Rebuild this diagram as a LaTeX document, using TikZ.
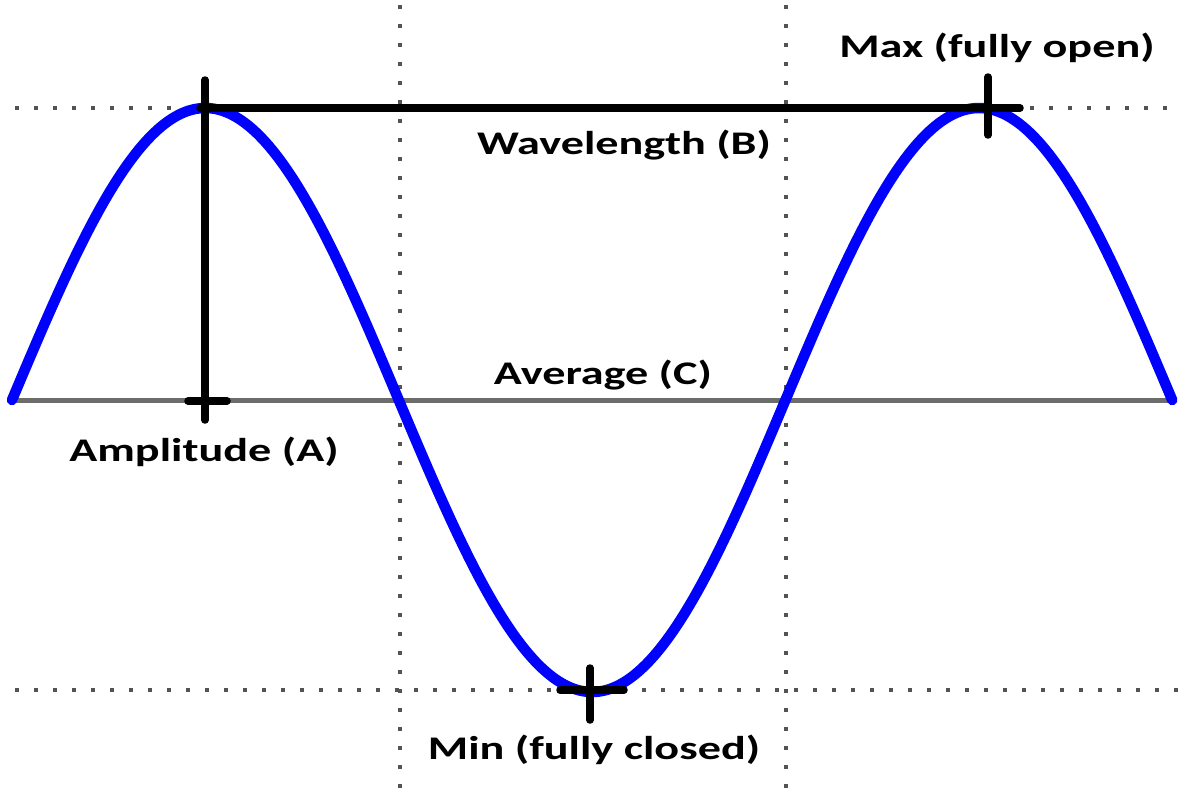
\documentclass[tikz,border=0pt]{standalone}
\usepackage{fontspec}
\setmainfont{Carlito}[FakeStretch=1.4]
\begin{document}
\begin{tikzpicture}[x=1pt,y=-1pt,
  dotline/.style={line width=4pt,gray!65!black,dash pattern=on 4pt off 15pt},
  avgline/.style={line width=5pt,gray!85!black},
  wave/.style={line width=10.5pt,blue,line cap=round},
  measure/.style={line width=7.5pt,black,line cap=round},
  lbl/.style={font=\bfseries\fontsize{33}{40}\selectfont,inner sep=0pt}]
\useasboundingbox (0,0) rectangle (1181,795);
% dotted guides
\draw[dotline] (15,108) -- (195,108);
\draw[dotline] (1030,108) -- (1178,108);
\draw[dotline] (15,690) -- (1178,690);
\draw[dotline] (400,5) -- (400,792);
\draw[dotline] (786,5) -- (786,792);
% average line
\coordinate (avgL) at (12,400);
\coordinate (avgR) at (1172,400);
\draw[avgline] (avgL) -- (avgR);
% sine wave
\draw[wave] plot[domain=0:540,samples=240,smooth] ({12+2.1485*\x},{400-292*sin(\x)});
% measurement lines
\coordinate (ampTop) at (205,80);
\coordinate (ampBot) at (205,420);
\coordinate (tickL) at (188,401);
\coordinate (tickR) at (227,401);
\coordinate (wlL) at (200,108);
\coordinate (wlR) at (1020,108);
\coordinate (maxT) at (988,77);
\coordinate (maxB) at (988,135);
\coordinate (minL) at (560,690);
\coordinate (minR) at (624,690);
\coordinate (minT) at (590,668);
\coordinate (minB) at (590,720);
\draw[measure] (ampTop) -- (ampBot);
\draw[measure] (tickL) -- (tickR);
\draw[measure] (wlL) -- (wlR);
\draw[measure] (maxT) -- (maxB);
\draw[measure] (minL) -- (minR);
\draw[measure] (minT) -- (minB);
% labels
\node[lbl] (maxlbl) at (997,48) {Max (fully open)};
\node[lbl] (wllbl) at (624,145) {Wavelength (B)};
\node[lbl] (avglbl) at (603,375) {Average (C)};
\node[lbl] (amplbl) at (204,452) {Amplitude (A)};
\node[lbl] (minlbl) at (594,750) {Min (fully closed)};
\end{tikzpicture}
\end{document}
